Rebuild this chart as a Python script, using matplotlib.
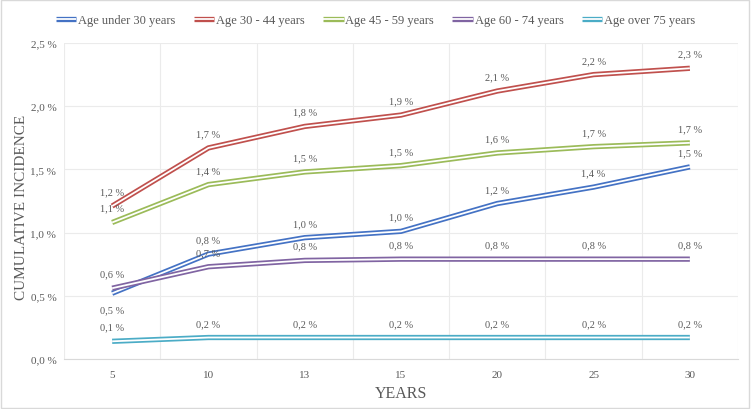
import numpy as np
import matplotlib.pyplot as plt
import matplotlib.patheffects as pe

plt.rcParams['font.family'] = ['Liberation Serif', 'DejaVu Serif']

years = ['5', '10', '13', '15', '20', '25', '30']
names = ['Age under 30 years', 'Age 30 - 44 years', 'Age 45 - 59 years',
         'Age 60 - 74 years', 'Age over 75 years']
colors = ['#4472C4', '#C0504D', '#9BBB59', '#8064A2', '#4BACC6']

under30 = [0.52, 0.83, 0.96, 1.01, 1.23, 1.36, 1.52]
age30_44 = [1.21, 1.67, 1.84, 1.93, 2.12, 2.25, 2.30]
age45_59 = [1.08, 1.38, 1.48, 1.53, 1.63, 1.68, 1.71]
age60_74 = [0.56, 0.73, 0.78, 0.79, 0.79, 0.79, 0.79]
over75 = [0.14, 0.17, 0.17, 0.17, 0.17, 0.17, 0.17]
series = [under30, age30_44, age45_59, age60_74, over75]

# labels under the line for these points (series index, point index)
below = {(0, 0)}

fig = plt.figure(figsize=(7.51, 4.10), dpi=100)
ax = fig.add_axes([64 / 751, 1 - 360 / 410, (738 - 64) / 751, (360 - 44) / 410])

x = np.arange(len(years))
for i, (vals, name, c) in enumerate(zip(series, names, colors)):
    ax.plot(x, vals, color=c, lw=3.8, label=name, solid_capstyle='butt',
            path_effects=[pe.Stroke(linewidth=3.8, foreground=c),
                          pe.Stroke(linewidth=1.3, foreground='white')])
    for j, v in enumerate(vals):
        lab = ('%.1f %%' % v).replace('.', ',')
        if (i, j) in below:
            ax.annotate(lab, (x[j], v), xytext=(0, -9), textcoords='offset points',
                        ha='center', va='top', fontsize=7.5, color='#595959')
        else:
            ax.annotate(lab, (x[j], v), xytext=(0, 7), textcoords='offset points',
                        ha='center', va='bottom', fontsize=7.5, color='#595959')

ax.set_xlim(-0.5, len(years) - 0.5)
ax.set_ylim(0, 2.5)
ax.set_xticks(x)
ax.set_xticklabels(years)
yt = np.arange(0, 2.51, 0.5)
ax.set_yticks(yt)
ax.set_yticklabels([('%.1f %%' % t).replace('.', ',') for t in yt])
ax.set_xticks(np.arange(-0.5, len(years), 1), minor=True)
ax.tick_params(which='both', length=0, labelsize=8, colors='#595959')
ax.tick_params(axis='y', pad=5.5)
ax.tick_params(axis='x', pad=8)
ax.grid(axis='y', color='#EBEBEB', lw=0.8)
ax.grid(axis='x', which='minor', color='#EBEBEB', lw=0.8)
for s in ['top', 'right', 'left']:
    ax.spines[s].set_visible(False)
ax.spines['bottom'].set_color('#D9D9D9')
ax.set_axisbelow(True)

ax.set_xlabel('YEARS', fontsize=11.5, color='#595959', labelpad=4)
ax.set_ylabel('CUMULATIVE INCIDENCE', fontsize=11, color='#595959')
ax.yaxis.set_label_coords(-(64 - 28) / 674, 0.484)

leg = fig.legend(loc='center', bbox_to_anchor=(0.5, 1 - 21 / 410), ncol=5, frameon=False,
                 fontsize=9, handlelength=1.65, handletextpad=0.15, columnspacing=1.45,
                 labelcolor='#595959')
for h in leg.legend_handles:
    h.set_alpha(0.75)

fig.patches.append(plt.Rectangle((0.001, 0.002), 0.997, 0.996, transform=fig.transFigure,
                                 fill=False, edgecolor='#D9D9D9', lw=1))

fig.savefig('out.png', dpi=100)
